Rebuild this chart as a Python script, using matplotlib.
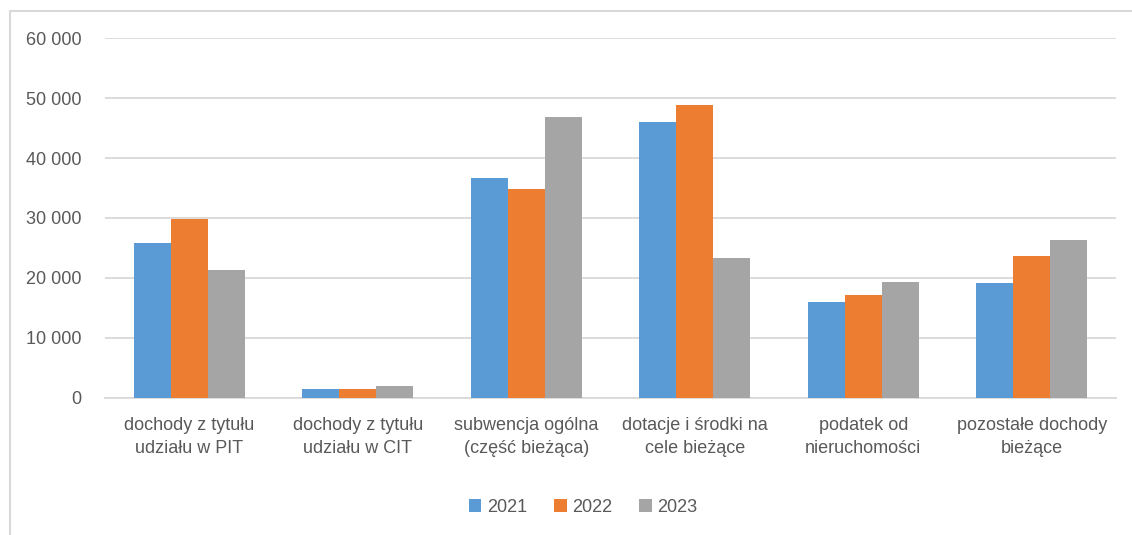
import numpy as np
import matplotlib
matplotlib.use('Agg')
import matplotlib.pyplot as plt
from matplotlib.patches import Rectangle
from matplotlib.ticker import FuncFormatter

# --- data ---
categories = [
    'dochody z tytułu\nudziału w PIT',
    'dochody z tytułu\nudziału w CIT',
    'subwencja ogólna\n(część bieżąca)',
    'dotacje i środki na\ncele bieżące',
    'podatek od\nnieruchomości',
    'pozostałe dochody\nbieżące',
]
years = ['2021', '2022', '2023']
v2021 = [25800, 1400, 36600, 46000, 15950, 19100]
v2022 = [29900, 1400, 34800, 48900, 17200, 23700]
v2023 = [21400, 1950, 46800, 23300, 19300, 26400]
y_ticks = [0, 10000, 20000, 30000, 40000, 50000, 60000]

COLORS = ['#5B9BD5', '#ED7D31', '#A5A5A5']
TEXT = '#595959'
GRID = '#D9D9D9'

plt.rcParams['font.family'] = ['Liberation Sans Narrow', 'Liberation Sans', 'DejaVu Sans']

fig = plt.figure(figsize=(11.32, 5.35), dpi=100)
fig.patch.set_facecolor('white')

# chart frame
fig.patches.append(Rectangle((10 / 1132, -0.01), 1.05, 1 - 11 / 535 + 0.01,
                             transform=fig.transFigure, fill=False,
                             edgecolor=GRID, linewidth=1.5))

ax = fig.add_axes([105 / 1132, 1 - 397.7 / 535, (1116 - 105) / 1132, (397.7 - 38.3) / 535])

x = np.arange(len(categories))
w = 0.22
for i, (vals, yr) in enumerate(zip([v2021, v2022, v2023], years)):
    ax.bar(x + (i - 1) * w, vals, width=w, color=COLORS[i], label=yr, zorder=3)

ax.set_xlim(-0.5, len(categories) - 0.5)
ax.set_ylim(0, 60000)
ax.set_yticks(y_ticks)
ax.yaxis.set_major_formatter(FuncFormatter(lambda v, p: f'{int(v):,}'.replace(',', ' ')))
ax.grid(axis='y', color=GRID, linewidth=1.3, zorder=0)
for s in ['top', 'right', 'left']:
    ax.spines[s].set_visible(False)
ax.spines['bottom'].set_color(GRID)
ax.spines['bottom'].set_linewidth(1.3)
ax.set_xticks(x)
ax.set_xticklabels(categories, fontsize=13, color=TEXT, linespacing=1.45)
ax.tick_params(axis='x', length=0, pad=14)
ax.tick_params(axis='y', length=0, pad=17, labelsize=13, labelcolor=TEXT)

leg = fig.legend(loc='center', bbox_to_anchor=(583 / 1132, 1 - 507 / 535), ncol=3,
                 frameon=False, fontsize=13, handlelength=0.7, handleheight=0.7,
                 handletextpad=0.3, columnspacing=1.5)
for t in leg.get_texts():
    t.set_color(TEXT)

fig.savefig('out.png', dpi=100, facecolor='white')
